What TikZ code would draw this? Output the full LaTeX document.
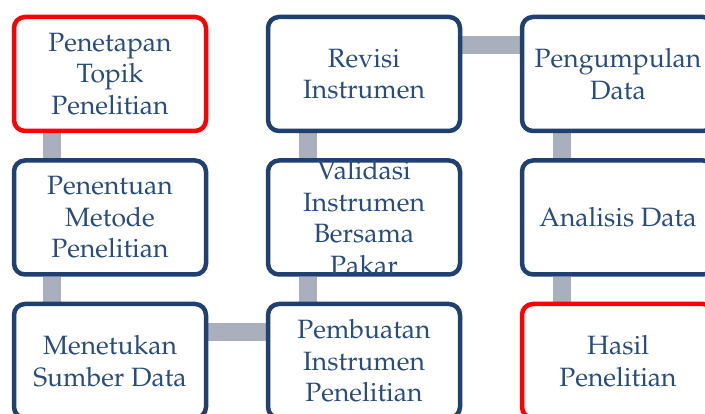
\documentclass[tikz,border=0pt]{standalone}
\usepackage[T1]{fontenc}
\usepackage{mathpazo}
\usetikzlibrary{backgrounds}

\definecolor{boxblue}{RGB}{31,64,112}
\definecolor{textblue}{RGB}{40,76,128}
\definecolor{linkgray}{RGB}{169,175,188}

\newcommand{\stagetext}[1]{\parbox[c][80pt][c]{190pt}{\centering #1}}

\tikzset{
  stage/.style={draw=boxblue, fill=white, line width=4.5pt, rounded corners=11pt,
    minimum width=192pt, minimum height=114pt, inner sep=0pt, text=textblue,
    font=\fontsize{26.5}{31.5}\selectfont},
  endstage/.style={stage, draw=red},
  link/.style={draw=linkgray, line width=18pt}
}

\begin{document}
\begin{tikzpicture}[x=1pt, y=1pt]
% Canvas
\useasboundingbox (0,0) rectangle (705,414);
\clip (0,0) rectangle (705,414);

% Stages
\node[endstage] (topik) at (110,340) {\stagetext{Penetapan\\Topik\\Penelitian}};
\node[stage] (metode) at (110,196.5) {\stagetext{Penentuan\\Metode\\Penelitian}};
\node[stage] (sumber) at (110,53) {\stagetext{Menetukan\\Sumber Data}};
\node[stage] (pembuatan) at (364,53) {\stagetext{Pembuatan\\Instrumen\\Penelitian}};
\node[stage] (validasi) at (364,196.5) {\stagetext{Validasi\\Instrumen\\Bersama\\Pakar}};
\node[stage] (revisi) at (364,340) {\stagetext{Revisi\\Instrumen}};
\node[stage] (pengumpulan) at (618,340) {\stagetext{Pengumpulan\\Data}};
\node[stage] (analisis) at (618,196.5) {\stagetext{Analisis Data}};
\node[endstage] (hasil) at (618,53) {\stagetext{Hasil\\Penelitian}};

% Links
\begin{pgfonlayer}{background}
\path[link] ([xshift=40pt]topik.south west) -- ([xshift=40pt]metode.north west);
\path[link] ([xshift=40pt]metode.south west) -- ([xshift=40pt]sumber.north west);
\path[link] ([yshift=-30.5pt]sumber.north east) -- ([yshift=-30.5pt]pembuatan.north west);
\path[link] ([xshift=42pt]pembuatan.north west) -- ([xshift=42pt]validasi.south west);
\path[link] ([xshift=42pt]validasi.north west) -- ([xshift=42pt]revisi.south west);
\path[link] ([yshift=-30.5pt]revisi.north east) -- ([yshift=-30.5pt]pengumpulan.north west);
\path[link] ([xshift=42pt]pengumpulan.south west) -- ([xshift=42pt]analisis.north west);
\path[link] ([xshift=42pt]analisis.south west) -- ([xshift=42pt]hasil.north west);
\end{pgfonlayer}
\end{tikzpicture}
\end{document}
